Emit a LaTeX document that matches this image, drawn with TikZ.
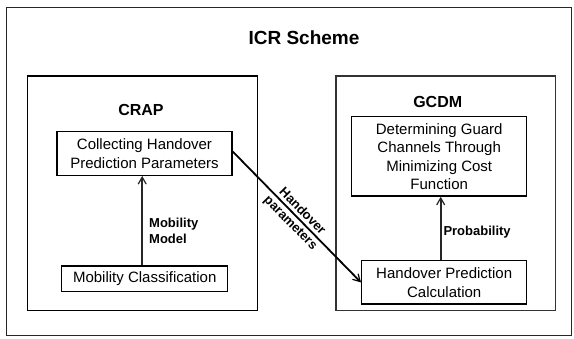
\documentclass[tikz,border=0pt]{standalone}
\usepackage{fontspec}
\setmainfont{Liberation Sans}
\usetikzlibrary{arrows.meta}
\tikzset{
  frame/.style={draw=black!85, line width=1.2pt},
  panel/.style={draw=black, line width=1.2pt},
  stepbox/.style={draw=black, line width=1.4pt, align=center, inner sep=0pt,
    font=\fontsize{15}{18.5}\selectfont},
  heading/.style={font=\fontsize{16}{19}\selectfont\bfseries, anchor=base},
  lbl/.style={font=\fontsize{13}{16}\selectfont\bfseries, align=left, inner sep=0pt},
  slbl/.style={font=\fontsize{13}{14}\selectfont\bfseries, inner sep=0pt, midway, sloped},
  arr/.style={-{Straight Barb[length=7pt,width=8pt,line width=1.2pt]}},
}
\begin{document}
\begin{tikzpicture}[x=1pt,y=-1pt]
\useasboundingbox (0,0) rectangle (574,338);
% outer frame
\draw[frame] (6.5,7.5) rectangle (571.5,335.5);
\node[font=\fontsize{19}{22}\selectfont\bfseries, anchor=base] (title) at (304,44.3) {ICR Scheme};
% panels
\draw[panel] (27.3,76) rectangle (257.3,310.5);
\draw[panel, draw=black!80] (336,76) rectangle (555.7,310.5);
\node[heading] (crap) at (141,115.7) {CRAP};
\node[heading] (gcdm) at (437.7,107.5) {GCDM};
% boxes
\node[stepbox, minimum width=175pt, minimum height=43.5pt] (col) at (144.5,153.5)
  {Collecting Handover\\Prediction Parameters};
\node[stepbox, minimum width=166pt, minimum height=25.7pt] (mc) at (144.7,278.9)
  {Mobility Classification};
\node[stepbox, minimum width=175pt, minimum height=79.3pt] (det) at (439.2,156.4)
  {Determining Guard\\Channels Through\\Minimizing Cost\\Function};
\node[stepbox, minimum width=165pt, minimum height=43.3pt] (hpc) at (444.2,282.4)
  {Handover Prediction\\Calculation};
% arrows
\draw[arr, draw=black!85, line width=2pt] ([xshift=-2.5pt]mc.north) -- ([xshift=-2.5pt]mc.north |- col.south);
\node[lbl, anchor=west] (mm) at (149,230.7) {Mobility\\Model};
\draw[arr, draw=black!85, line width=2pt] ([xshift=-3.5pt]hpc.north) -- ([xshift=-3.5pt]hpc.north |- det.south);
\node[lbl, anchor=west] (prob) at (443.3,232.3) {Probability};
\draw[arr, line width=1.8pt] ([yshift=2pt]col.east) -- (hpc.west)
  node[slbl, above=3pt] (hp1) {Handover}
  node[slbl, below=3pt] (hp2) {parameters};
\end{tikzpicture}
\end{document}
